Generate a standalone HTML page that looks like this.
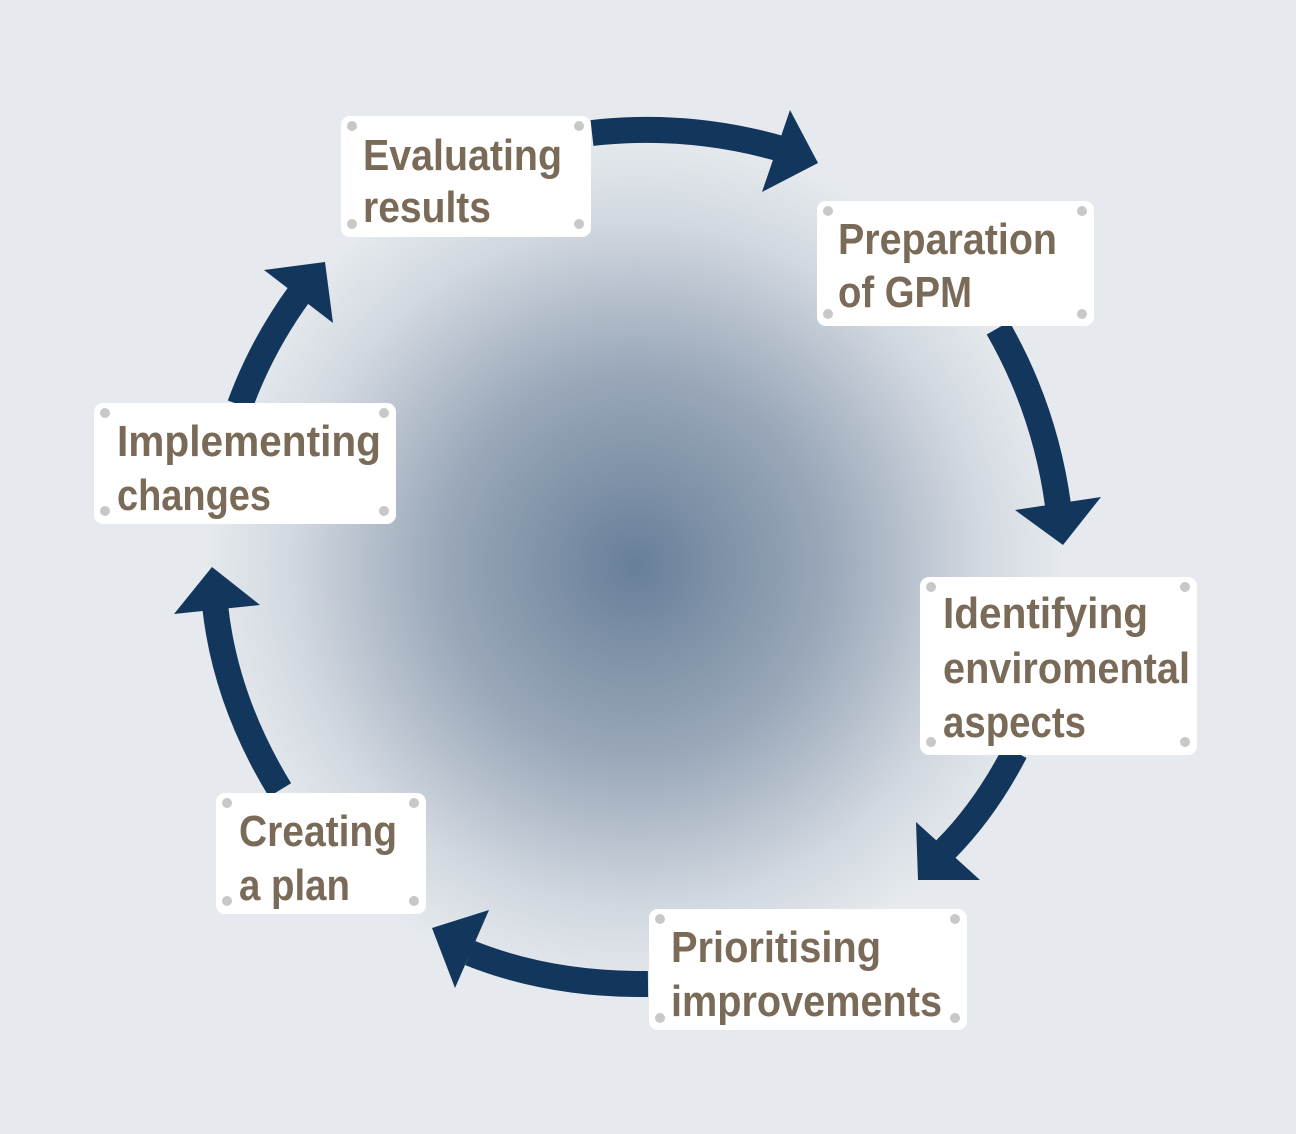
<!DOCTYPE html>
<html><head><style>html,body{margin:0;padding:0;background:#e6eaee}svg{display:block}</style></head>
<body>
<svg width="1296" height="1134" viewBox="0 0 1296 1134" xmlns="http://www.w3.org/2000/svg">
<defs>
<radialGradient id="g" cx="635" cy="565" r="430" gradientUnits="userSpaceOnUse">
<stop offset="0" stop-color="#687f99"/>
<stop offset="0.45" stop-color="#9aa8b9"/>
<stop offset="0.8" stop-color="#d2d8e0"/>
<stop offset="1" stop-color="#e6eaee"/>
</radialGradient>
</defs>
<rect width="1296" height="1134" fill="#e6eaee"/>
<circle cx="635" cy="565" r="430" fill="url(#g)"/>
<g fill="none" stroke="#12365c" stroke-width="26">
<path d="M592,133 Q690,122 785,150"/>
<path d="M998,328 Q1045,410 1058,505"/>
<path d="M1015,752 Q985,810 945,850"/>
<path d="M648,984 Q550,985 470,953"/>
<path d="M280,790 Q225,700 215,605"/>
<path d="M240,405 Q262,345 300,293"/>
</g>
<g fill="#12365c">
<polygon points="790,110 818,163 762,192"/>
<polygon points="1015,510 1101,497 1063,545"/>
<polygon points="916,822 918,880 980,880"/>
<polygon points="432,928 489,910 455,988"/>
<polygon points="174,614 212,567 260,605"/>
<polygon points="264,270 325,262 333,323"/>
</g>
<g fill="#fff">
<rect x="341" y="116" width="250" height="121" rx="9"/>
<rect x="817" y="201" width="277" height="125" rx="9"/>
<rect x="920" y="577" width="277" height="178" rx="9"/>
<rect x="649" y="909" width="318" height="121" rx="9"/>
<rect x="216" y="793" width="210" height="121" rx="9"/>
<rect x="94" y="403" width="302" height="121" rx="9"/>
</g>
<g fill="#c8c8c8">
<circle cx="352" cy="126" r="5"/><circle cx="579" cy="126" r="5"/><circle cx="352" cy="224" r="5"/><circle cx="579" cy="224" r="5"/>
<circle cx="828" cy="211" r="5"/><circle cx="1082" cy="211" r="5"/><circle cx="828" cy="314" r="5"/><circle cx="1082" cy="314" r="5"/>
<circle cx="931" cy="587" r="5"/><circle cx="1185" cy="587" r="5"/><circle cx="931" cy="742" r="5"/><circle cx="1185" cy="742" r="5"/>
<circle cx="660" cy="919" r="5"/><circle cx="955" cy="919" r="5"/><circle cx="660" cy="1018" r="5"/><circle cx="955" cy="1018" r="5"/>
<circle cx="227" cy="803" r="5"/><circle cx="414" cy="803" r="5"/><circle cx="227" cy="901" r="5"/><circle cx="414" cy="901" r="5"/>
<circle cx="105" cy="413" r="5"/><circle cx="384" cy="413" r="5"/><circle cx="105" cy="511" r="5"/><circle cx="384" cy="511" r="5"/>
</g>
<g fill="#7a6a58" font-family="'Liberation Sans Narrow','Liberation Sans',sans-serif" font-weight="bold" font-size="44" lengthAdjust="spacingAndGlyphs">
<text x="363" y="170" textLength="199" lengthAdjust="spacingAndGlyphs">Evaluating</text>
<text x="363" y="222" textLength="128" lengthAdjust="spacingAndGlyphs">results</text>
<text x="838" y="254" textLength="219" lengthAdjust="spacingAndGlyphs">Preparation</text>
<text x="838" y="307" textLength="134" lengthAdjust="spacingAndGlyphs">of GPM</text>
<text x="943" y="628" textLength="205" lengthAdjust="spacingAndGlyphs">Identifying</text>
<text x="943" y="683" textLength="247" lengthAdjust="spacingAndGlyphs">enviromental</text>
<text x="943" y="737" textLength="143" lengthAdjust="spacingAndGlyphs">aspects</text>
<text x="671" y="962" textLength="210" lengthAdjust="spacingAndGlyphs">Prioritising</text>
<text x="671" y="1016" textLength="271" lengthAdjust="spacingAndGlyphs">improvements</text>
<text x="239" y="846" textLength="158" lengthAdjust="spacingAndGlyphs">Creating</text>
<text x="239" y="900" textLength="111" lengthAdjust="spacingAndGlyphs">a plan</text>
<text x="117" y="456" textLength="264" lengthAdjust="spacingAndGlyphs">Implementing</text>
<text x="117" y="510" textLength="154" lengthAdjust="spacingAndGlyphs">changes</text>
</g>
</svg>
</body></html>
